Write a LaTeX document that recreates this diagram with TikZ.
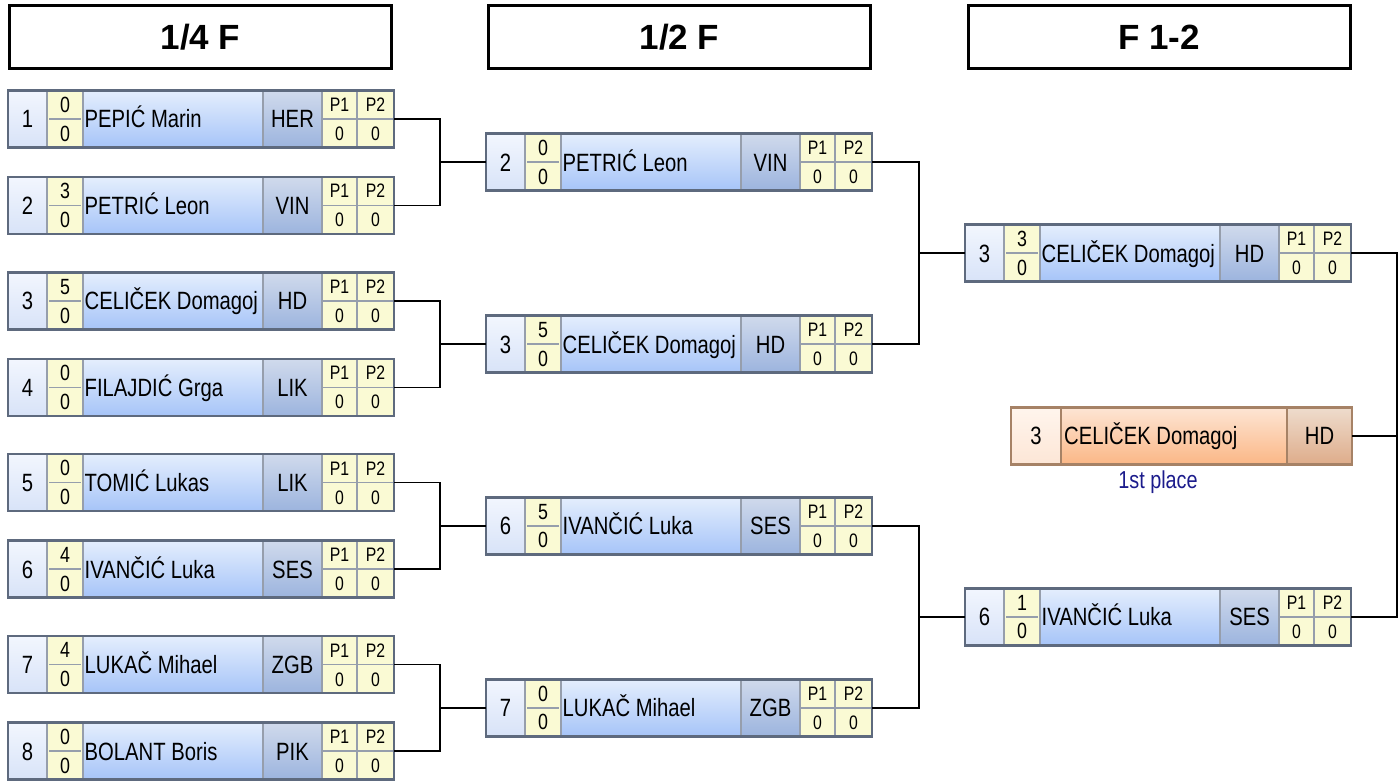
\documentclass[tikz,border=0pt]{standalone}
\usepackage{fontspec}
\setmainfont{Liberation Sans}
\newfontfamily\narrowsans[FakeStretch=0.81]{Liberation Sans}
\usetikzlibrary{positioning,calc}

\definecolor{framegray}{RGB}{94,106,126}
\definecolor{cellgray}{RGB}{150,158,172}
\definecolor{seedtop}{RGB}{242,246,254}
\definecolor{seedbot}{RGB}{216,227,248}
\definecolor{scorefill}{RGB}{250,250,212}
\definecolor{nametop}{RGB}{228,238,253}
\definecolor{namebot}{RGB}{166,196,248}
\definecolor{clubtop}{RGB}{208,218,236}
\definecolor{clubbot}{RGB}{156,180,222}
\definecolor{winframe}{RGB}{166,130,102}
\definecolor{winseedtop}{RGB}{255,245,237}
\definecolor{winseedbot}{RGB}{253,230,214}
\definecolor{winnametop}{RGB}{253,229,212}
\definecolor{winnamebot}{RGB}{251,183,134}
\definecolor{winclubtop}{RGB}{238,220,205}
\definecolor{winclubbot}{RGB}{222,172,138}
\definecolor{placeblue}{RGB}{28,28,140}

\tikzset{
  link/.style={line width=1.7pt, black},
  roundhead/.style={draw, line width=3pt, minimum width=382pt, minimum height=63pt,
    inner sep=0pt, font=\fontsize{35}{38}\selectfont\bfseries},
  entryframe/.style={draw=framegray, line width=2.5pt, minimum width=386pt,
    minimum height=57pt, inner sep=0pt, outer sep=0pt},
  bigtxt/.style={inner sep=0pt, font=\narrowsans\fontsize{25}{28}\selectfont},
  scoretxt/.style={inner sep=0pt, font=\narrowsans\fontsize{22}{24}\selectfont},
  ptxt/.style={inner sep=0pt, font=\narrowsans\fontsize{19.5}{21}\selectfont},
  cellline/.style={cellgray, line width=1.5pt},
}

% #1 node, #2 left x, #3 centre y, #4 seed, #5/#6 score, #7 player, #8 club
\newcommand{\playerbox}[8]{%
  \begin{scope}[shift={(#2,#3)}]
    \shade[top color=seedtop, bottom color=seedbot] (0,-28.5) rectangle (39,28.5);
    \fill[scorefill] (39,-28.5) rectangle (75,28.5);
    \shade[top color=nametop, bottom color=namebot] (75,-28.5) rectangle (255,28.5);
    \shade[top color=clubtop, bottom color=clubbot] (255,-28.5) rectangle (314,28.5);
    \fill[scorefill] (314,-28.5) rectangle (386,28.5);
    \draw[cellline] (39,-28.5) -- (39,28.5) (75,-28.5) -- (75,28.5)
      (255,-28.5) -- (255,28.5) (314,-28.5) -- (314,28.5) (349,-28.5) -- (349,28.5);
    \draw[cellline] (41,0) -- (73,0) (314,0) -- (386,0);
    \node[bigtxt, anchor=base] (#1-seed) at (19.5,-9) {#4};
    \node[scoretxt, anchor=base] (#1-up) at (57,6.6) {#5};
    \node[scoretxt, anchor=base] (#1-down) at (57,-22.2) {#6};
    \node[bigtxt, anchor=base west] (#1-name) at (76.5,-9) {#7};
    \node[bigtxt, anchor=base] (#1-club) at (284.5,-9) {#8};
    \node[ptxt, anchor=base] (#1-pa) at (331.5,7.5) {P1};
    \node[ptxt, anchor=base] (#1-pb) at (367.5,7.5) {P2};
    \node[ptxt, anchor=base] (#1-va) at (331.5,-21.5) {0};
    \node[ptxt, anchor=base] (#1-vb) at (367.5,-21.5) {0};
    \node[entryframe] (#1) at (193,0) {};
  \end{scope}}

\begin{document}
\begin{tikzpicture}[x=1pt, y=1pt]
\useasboundingbox (0,0) rectangle (1400,780);

% round titles
\node[roundhead] (h1) at (200.5,743) {1/4 F};
\node[roundhead] (h2) at (679.5,743) {1/2 F};
\node[roundhead] (h3) at (1159,743) {F 1-2};

% quarter finals
\playerbox{q1}{8}{661}{1}{0}{0}{PEPIĆ Marin}{HER}
\playerbox{q2}{8}{574.5}{2}{3}{0}{PETRIĆ Leon}{VIN}
\playerbox{q3}{8}{479}{3}{5}{0}{CELIČEK Domagoj}{HD}
\playerbox{q4}{8}{392.5}{4}{0}{0}{FILAJDIĆ Grga}{LIK}
\playerbox{q5}{8}{297.5}{5}{0}{0}{TOMIĆ Lukas}{LIK}
\playerbox{q6}{8}{211}{6}{4}{0}{IVANČIĆ Luka}{SES}
\playerbox{q7}{8}{115.5}{7}{4}{0}{LUKAČ Mihael}{ZGB}
\playerbox{q8}{8}{29}{8}{0}{0}{BOLANT Boris}{PIK}

% semi finals
\playerbox{s1}{486}{617.75}{2}{0}{0}{PETRIĆ Leon}{VIN}
\playerbox{s2}{486}{435.75}{3}{5}{0}{CELIČEK Domagoj}{HD}
\playerbox{s3}{486}{254.25}{6}{5}{0}{IVANČIĆ Luka}{SES}
\playerbox{s4}{486}{72.25}{7}{0}{0}{LUKAČ Mihael}{ZGB}

% final
\playerbox{f1}{965}{526.75}{3}{3}{0}{CELIČEK Domagoj}{HD}
\playerbox{f2}{965}{163.25}{6}{1}{0}{IVANČIĆ Luka}{SES}

% winner
\begin{scope}[shift={(1011,344)}]
  \shade[top color=winseedtop, bottom color=winseedbot] (0,-28.5) rectangle (50,28.5);
  \shade[top color=winnametop, bottom color=winnamebot] (50,-28.5) rectangle (276,28.5);
  \shade[top color=winclubtop, bottom color=winclubbot] (276,-28.5) rectangle (341,28.5);
  \draw[winframe, line width=1.5pt] (50,-28.5) -- (50,28.5) (276,-28.5) -- (276,28.5);
  \node[bigtxt, anchor=base] (win-seed) at (25,-9) {3};
  \node[bigtxt, anchor=base west] (win-name) at (53,-9) {CELIČEK Domagoj};
  \node[bigtxt, anchor=base] (win-club) at (308.5,-9) {HD};
  \node[entryframe, draw=winframe, minimum width=341pt] (win) at (170.5,0) {};
  \node[inner sep=0pt, anchor=base, placeblue, font=\narrowsans\fontsize{24.5}{26}\selectfont]
    (place) at (147,-52.5) {1st place};
\end{scope}

% brackets
\foreach \a/\b/\c in {q1/q2/s1, q3/q4/s2, q5/q6/s3, q7/q8/s4, s1/s2/f1, s3/s4/f2} {
  \coordinate (j\c) at ($(\c.west)+(-46,0)$);
  \draw[link] (\a.east) -| (j\c) |- (\b.east);
  \draw[link] (j\c) -- (\c.west);
}
\coordinate (jwin) at ($(win.east)+(45,0)$);
\draw[link] (f1.east) -| (jwin) |- (f2.east);
\draw[link] (win.east) -- (jwin);
\end{tikzpicture}
\end{document}
